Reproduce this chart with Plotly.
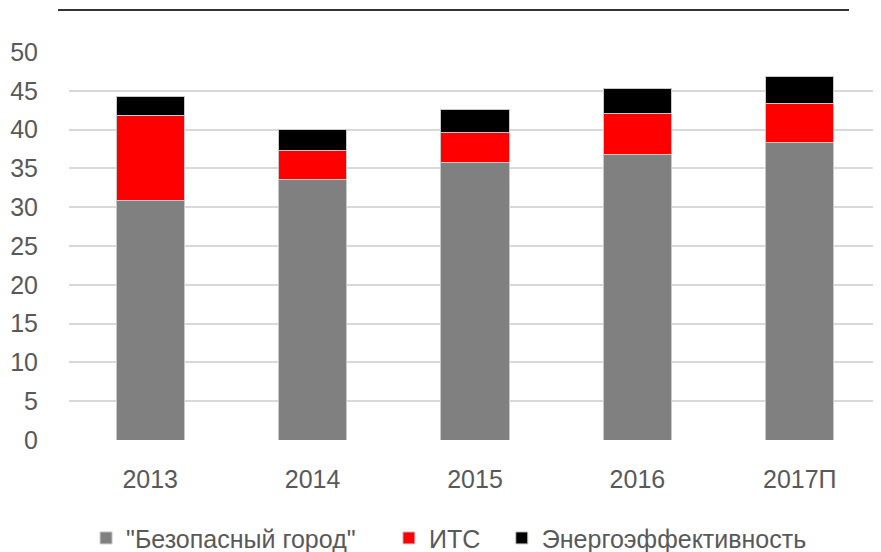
import plotly.graph_objects as go

categories = ["2013", "2014", "2015", "2016", "2017П"]
safe_city = [30.8, 33.6, 35.8, 36.8, 38.3]
its = [11.0, 3.7, 3.8, 5.3, 5.0]
energy = [2.5, 2.7, 3.0, 3.2, 3.5]
series_names = ['"Безопасный город"', "ИТС", "Энергоэффективность"]
series_colors = ["#808080", "#ff0000", "#000000"]
y_ticks = [0, 5, 10, 15, 20, 25, 30, 35, 40, 45, 50]

font_family = "Liberation Sans, Arial, sans-serif"
text_color = "#595959"
FS = 25

legend_ids = ["legend", "legend2", "legend3"]
legend_x = [0.021, 0.394, 0.533]

fig = go.Figure()
for name, vals, col, lg in zip(series_names, [safe_city, its, energy], series_colors, legend_ids):
    fig.add_trace(go.Bar(
        x=categories, y=vals, name=name, legend=lg,
        marker=dict(color=col, line=dict(color="#c8c8c8", width=1)),
        width=0.42,
    ))

legend_common = dict(
    orientation="h", xanchor="left", y=-0.253, yanchor="middle",
    font=dict(size=FS, color=text_color, family=font_family), itemwidth=30,
    bgcolor="rgba(0,0,0,0)",
)

# the page body has an 8px default margin; margins compensate for it
fig.update_layout(
    width=881, height=552,
    barmode="stack",
    paper_bgcolor="white", plot_bgcolor="white",
    margin=dict(l=61, r=8, t=44, b=120, autoexpand=False),
    font=dict(family=font_family, size=FS, color=text_color),
    showlegend=True,
    legend=dict(x=legend_x[0], **legend_common),
    legend2=dict(x=legend_x[1], **legend_common),
    legend3=dict(x=legend_x[2], **legend_common),
    shapes=[dict(
        type="line", xref="paper", yref="paper",
        x0=-0.0135, x1=0.9606, y0=1.108, y1=1.108,
        line=dict(color="#333333", width=2),
    )],
)
fig.update_yaxes(
    range=[0, 50], tickvals=y_ticks, showgrid=True, gridcolor="#d9d9d9", gridwidth=1.5,
    zeroline=False, showline=False, ticks="", ticklabelstandoff=30, automargin=False,
    tickfont=dict(size=FS, color=text_color),
)
fig.update_xaxes(
    showgrid=False, showline=False, ticks="", ticklabelstandoff=22, automargin=False,
    tickfont=dict(size=FS, color=text_color),
)

fig.write_html("out.html")
